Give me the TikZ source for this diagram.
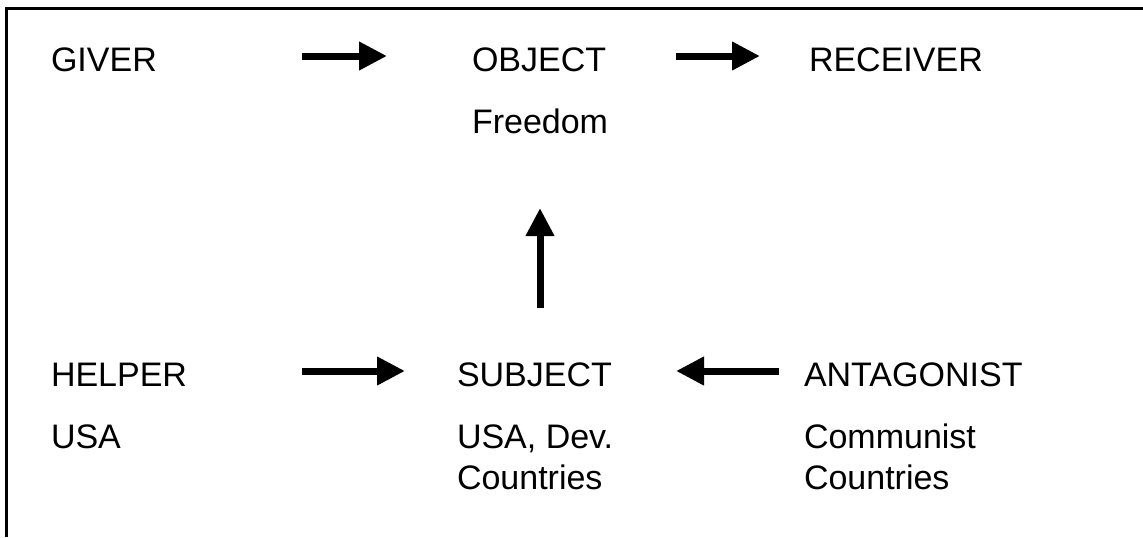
\documentclass[tikz,border=0pt]{standalone}
\usepackage{fontspec}
\setmainfont{Liberation Sans}
\usetikzlibrary{arrows.meta}
\begin{document}
\begin{tikzpicture}[x=0.75pt,y=-0.75pt,
  lbl/.style={anchor=base west,inner sep=0pt,outer sep=0pt,
    font=\fontsize{25.5pt}{30.75pt}\selectfont},
  bigarrow/.style={line width=5.25pt,
    -{Triangle[length=21pt,width=20.25pt]}},
  frame/.style={line width=1.6pt}]
\useasboundingbox (0,0) rectangle (1143,537);
% frame: top and left edges only
\draw[frame] (6.5,537) -- (6.5,8.5) -- (1143,8.5);

% top row
\node[lbl] (giver)    at (51,71)  {GIVER};
\node[lbl] (object)   at (472,71) {OBJECT};
\node[lbl] (freedom)  at (472,133) {Freedom};
\node[lbl] (receiver) at (809,71) {RECEIVER};

% bottom row
\node[lbl] (helper)   at (51,386)  {HELPER};
\node[lbl] (helperB)  at (51,448)  {USA};
\node[lbl] (subject)  at (457,386) {SUBJECT};
\node[lbl] (subjectB) at (457,448) {USA, Dev.};
\node[lbl] (subjectC) at (457,489) {Countries};
\node[lbl] (antag)    at (804,386) {ANTAGONIST};
\node[lbl] (antagB)   at (804,448) {Communist};
\node[lbl] (antagC)   at (804,489) {Countries};

% arrow end points
\coordinate (g1) at (302,56);  \coordinate (o1) at (387,56);
\coordinate (o2) at (676,56);  \coordinate (r2) at (760,56);
\coordinate (s3) at (540,308); \coordinate (o3) at (540,208);
\coordinate (h4) at (302,371); \coordinate (s4) at (405,371);
\coordinate (a5) at (779,371); \coordinate (s5) at (676,371);

\draw[bigarrow] (g1) -- (o1);
\draw[bigarrow] (o2) -- (r2);
\draw[bigarrow] (s3) -- (o3);
\draw[bigarrow] (h4) -- (s4);
\draw[bigarrow] (a5) -- (s5);
\end{tikzpicture}
\end{document}
